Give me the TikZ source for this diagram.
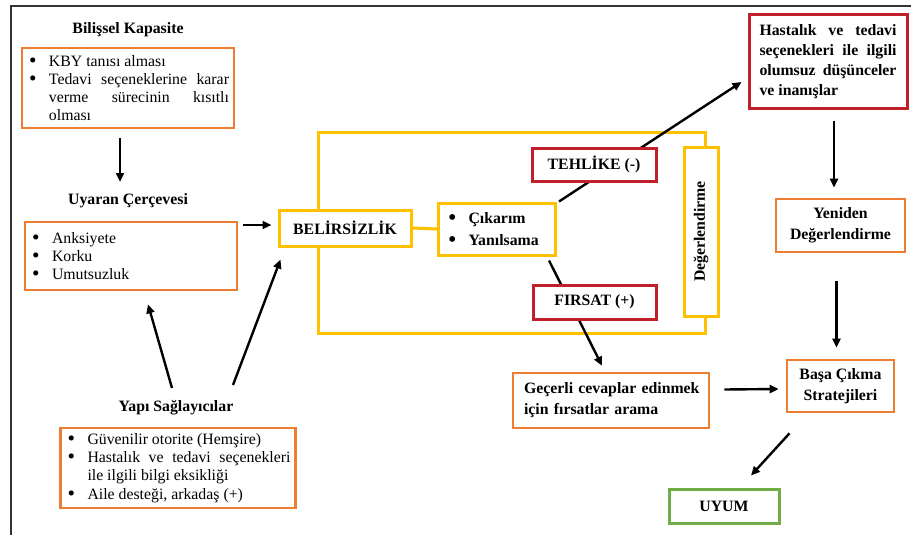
\documentclass[tikz,border=0pt]{standalone}
\usepackage{fontspec}
\setmainfont{Liberation Serif}
\usetikzlibrary{arrows.meta,calc}
\definecolor{boxorange}{RGB}{237,125,49}
\definecolor{boxyellow}{RGB}{255,192,0}
\definecolor{boxred}{RGB}{192,32,42}
\definecolor{boxgreen}{RGB}{112,173,71}
\newcommand{\bitem}[1]{\noindent\hangindent=22pt\hangafter=1\makebox[22pt][l]{\hspace{2pt}\smash{\raisebox{-1.2pt}{\scalebox{1.35}{\textbullet}}}}#1\par}
\tikzset{
  txt/.style={font=\fontsize{15.8}{18.2}\selectfont},
  title/.style={txt, font=\fontsize{15.8}{18.2}\selectfont\bfseries, inner sep=0pt},
  basebox/.style={txt, draw, line width=2.6pt, fill=white, inner xsep=5pt, inner ysep=0pt},
  orangebox/.style={basebox, draw=boxorange},
  yellowbox/.style={basebox, draw=boxyellow, line width=3pt},
  redbox/.style={basebox, draw=boxred, line width=3pt},
  greenbox/.style={basebox, draw=boxgreen, line width=3pt},
  arr/.style={-{Triangle[length=9pt,width=8pt]}, line width=2.4pt}
}
\hyphenpenalty=10000
\exhyphenpenalty=10000
\tolerance=10000
\begin{document}
\begin{tikzpicture}[x=1pt,y=-1pt]
\useasboundingbox (0,0) rectangle (911,535);
% outer frame
\draw[line width=1.2pt, black!80] (11,535) -- (11,6) -- (911,6);
% uncertainty frame
\draw[boxyellow, line width=3pt] (318,132) rectangle (705,333);

% left column
\node[title] (tBil) at (128,30) {Bilişsel Kapasite};
\node[orangebox, minimum width=212pt, minimum height=80pt, text width=202pt, align=justify] (kap) at (128,88)
  {\bitem{KBY tanısı alması}\bitem{Tedavi seçeneklerine karar verme sürecinin kısıtlı olması}};
\node[title] (tUya) at (128,201) {Uyaran Çerçevesi};
\node[orangebox, minimum width=212pt, minimum height=68pt, text width=202pt, align=left] (uya) at (131,256)
  {\bitem{Anksiyete}\bitem{Korku}\bitem{Umutsuzluk}};
\node[title] (tYapi) at (176,408) {Yapı Sağlayıcılar};
\node[orangebox, minimum width=235pt, minimum height=80pt, text width=225pt, align=justify] (yapi) at (178,468)
  {\bitem{Güvenilir otorite (Hemşire)}\bitem{Hastalık ve tedavi seçenekleri ile ilgili bilgi eksikliği}\bitem{Aile desteği, arkadaş (+)}};

% middle
\node[yellowbox, minimum width=132pt, minimum height=36pt, font=\fontsize{15.8}{18.2}\selectfont\bfseries] (bel) at (345,228) {BELİRSİZLİK};
\node[yellowbox, minimum width=117pt, minimum height=52pt, inner xsep=8pt, text width=101pt, align=left,
  font=\fontsize{15.8}{22}\selectfont\bfseries] (cik) at (497,229) {\bitem{Çıkarım}\bitem{Yanılsama}};
\node[yellowbox, minimum width=34pt, minimum height=169pt, inner xsep=0pt] (deg) at (701,231.5)
  {\rotatebox{90}{\bfseries Değerlendirme}};
\draw[boxyellow, line width=3pt] (bel.east) -- (cik.west);

% right column
\node[redbox, minimum width=158pt, minimum height=94pt, inner xsep=10.5pt, text width=137pt, align=justify,
  font=\fontsize{15.8}{20}\selectfont\bfseries] (has) at (828,62)
  {Hastalık ve tedavi seçenekleri ile ilgili olumsuz düşünceler ve inanışlar};
\node[orangebox, minimum width=129pt, minimum height=53pt, align=center,
  font=\fontsize{15.8}{20.5}\selectfont\bfseries] (yen) at (840.5,225.5) {Yeniden\\Değerlendirme};
\node[orangebox, minimum width=107pt, minimum height=52pt, align=center,
  font=\fontsize{15.8}{20.5}\selectfont\bfseries] (bas) at (840.5,386) {Başa Çıkma\\Stratejileri};
\node[orangebox, minimum width=196pt, minimum height=55pt, inner xsep=11pt, text width=174pt, align=left,
  font=\fontsize{15.8}{21}\selectfont\bfseries] (gec) at (611,400.5) {\mbox{Geçerli cevaplar edinmek}\\için fırsatlar arama};
\node[greenbox, minimum width=110pt, minimum height=34pt, font=\fontsize{15.8}{18.2}\selectfont\bfseries] (uyum) at (724,506) {UYUM};

% connectors
\draw[arr] ($(kap.south)+(-8,9)$) -- ($(tUya)+(-8,-19)$);
\draw[arr] ($(bel.west -| uya.east)+(5,-3)$) -- ($(bel.west)+(-6,-3)$);
\draw[arr] ($(tYapi)+(-4,-20)$) -- ($(uya.south)+(17,13)$);
\draw[arr] ($(tYapi)+(57,-23)$) -- ($(bel.south west)+(3,12)$);
\draw[arr] ($(cik.north east)+(2,0)$) -- ($(has.west)+(-6,20)$);
\draw[arr] ($(cik.south east)+(-8,4)$) -- ($(gec.north)+(-9,-6)$);
\draw[arr] ($(has.south)+(6,10)$) -- ($(yen.north)+(-6.5,-10)$);
\draw[arr] ($(yen.south)+(-4,28)$) -- ($(bas.north)+(-4,-11)$);
\draw[arr] ($(gec.east)+(14,-11)$) -- ($(bas.west)+(-7,3)$);
\draw[arr] ($(bas.south)+(-51,20)$) -- ($(uyum.north)+(27,-12)$);

% threat and opportunity on top of the lines
\node[redbox, minimum width=124pt, minimum height=33pt, font=\fontsize{15.8}{18.2}\selectfont\bfseries] (teh) at (594,164.5) {TEHLİKE (-)};
\node[redbox, minimum width=123pt, minimum height=34pt, font=\fontsize{15.8}{18.2}\selectfont\bfseries] (fir) at (594.5,302) {FIRSAT (+)};
\end{tikzpicture}
\end{document}
